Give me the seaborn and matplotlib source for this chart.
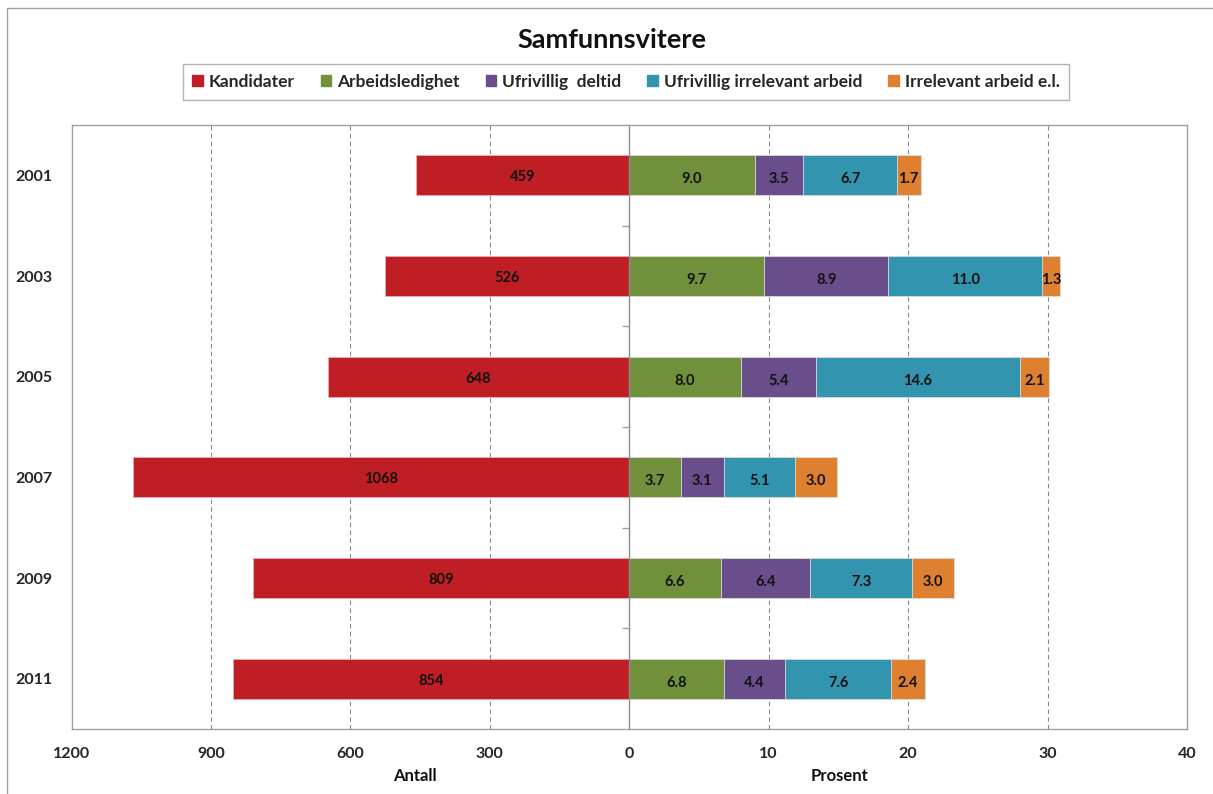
"""Samfunnsvitere: kandidater (antall) og andel med ulike utfall (prosent)."""
import matplotlib
matplotlib.use("Agg")
import matplotlib.pyplot as plt
import matplotlib.patches as mpatches
import numpy as np
import pandas as pd
import seaborn as sns

years = ["2001", "2003", "2005", "2007", "2009", "2011"]
kandidater = [459, 526, 648, 1068, 809, 854]
arbeidsledighet = [9.0, 9.7, 8.0, 3.7, 6.6, 6.8]
ufrivillig_deltid = [3.5, 8.9, 5.4, 3.1, 6.4, 4.4]
ufrivillig_irrelevant = [6.7, 11.0, 14.6, 5.1, 7.3, 7.6]
irrelevant_el = [1.7, 1.3, 2.1, 3.0, 3.0, 2.4]

series_names = ["Kandidater", "Arbeidsledighet", "Ufrivillig  deltid",
                "Ufrivillig irrelevant arbeid", "Irrelevant arbeid e.l."]
colors = ["#BE1E24", "#71903B", "#6A4E8B", "#3294AE", "#DE802F"]

sns.set_theme(style="white")
plt.rcParams["font.family"] = ["Lato", "DejaVu Sans"]
GRAY = "#A0A0A0"

fig = plt.figure(figsize=(12.13, 7.94), dpi=100)
ax_l = fig.add_axes([72 / 1213, 65 / 794, 557 / 1213, 604 / 794])
ax_r = fig.add_axes([629 / 1213, 65 / 794, 558 / 1213, 604 / 794])

# venstre side: antall kandidater
df_k = pd.DataFrame({"year": years, "Antall": kandidater})
sns.barplot(data=df_k, x="Antall", y="year", orient="h", color=colors[0],
            width=0.4, saturation=1, edgecolor="#E8B0B0", linewidth=0.6, ax=ax_l)
ax_l.set_xlim(1200, 0)
ax_l.set_xticks([1200, 900, 600, 300, 0])
for i, v in enumerate(kandidater):
    ax_l.text(v / 2, i + 0.02, str(v), ha="center", va="center", fontsize=10.5,
              fontweight="bold", color="#111111")

# høyre side: stablede prosentandeler
pct = np.array([arbeidsledighet, ufrivillig_deltid, ufrivillig_irrelevant, irrelevant_el])
cum = np.cumsum(pct, axis=0)
for k in range(3, -1, -1):
    df_p = pd.DataFrame({"year": years, "Prosent": cum[k]})
    sns.barplot(data=df_p, x="Prosent", y="year", orient="h", color=colors[k + 1],
                width=0.4, saturation=1, edgecolor="#DDDDDD", linewidth=0.6, ax=ax_r)
for k in range(4):
    for i in range(len(years)):
        mid = cum[k, i] - pct[k, i] / 2
        ax_r.text(mid, i + 0.04, f"{pct[k, i]:.1f}", ha="center", va="center",
                  fontsize=10.5, fontweight="bold", color="#111111")
ax_r.set_xlim(0, 40)
ax_r.set_xticks([0, 10, 20, 30, 40])

for ax in (ax_l, ax_r):
    ax.set_ylim(5.5, -0.5)
    ax.set_xlabel("")
    ax.set_ylabel("")
    for s in ax.spines.values():
        s.set_color(GRAY)
        s.set_linewidth(1.0)
    ax.tick_params(axis="x", direction="out", length=5, color=GRAY, width=1,
                   labelsize=11.5, pad=8)
    for lbl in ax.get_xticklabels():
        lbl.set_fontweight("bold")

for v in (900, 600, 300):
    ax_l.axvline(v, color="#8A8A8A", linestyle=(0, (4, 3)), linewidth=0.8, zorder=0)
for v in (10, 20, 30):
    ax_r.axvline(v, color="#8A8A8A", linestyle=(0, (4, 3)), linewidth=0.8, zorder=0)

ax_l.set_yticks(range(len(years)))
ax_l.set_yticklabels(years, fontsize=11.5, fontweight="bold")
ax_l.tick_params(axis="y", length=0, pad=14, left=False, labelleft=True)
ax_l.spines["right"].set_visible(False)

# nullinjen med små markeringer mellom årene
ax_r.spines["left"].set_color("#8C8C8C")
ax_r.set_yticks([0.5, 1.5, 2.5, 3.5, 4.5])
ax_r.set_yticklabels([])
ax_r.tick_params(axis="y", direction="out", length=5, color=GRAY, width=1, left=True)
ax_r.set_xticklabels(["", "10", "20", "30", "40"])

fig.text(415 / 1213, 1 - 776 / 794, "Antall", ha="center", va="center",
         fontsize=12, fontweight="bold", color="#111111")
fig.text(840 / 1213, 1 - 776 / 794, "Prosent", ha="center", va="center",
         fontsize=12, fontweight="bold", color="#111111")
fig.text(612 / 1213, 1 - 40 / 794, "Samfunnsvitere", ha="center", va="center",
         fontsize=19.5, fontweight="bold", color="#111111")

handles = [mpatches.Patch(color=c, label=n) for c, n in zip(colors, series_names)]
leg = fig.legend(handles=handles, loc="center", bbox_to_anchor=(626 / 1213, 1 - 82 / 794),
                 ncol=5, frameon=True, fancybox=False, handlelength=0.6,
                 handleheight=0.6, handletextpad=0.35, columnspacing=1.5,
                 borderpad=0.55, edgecolor=GRAY, prop={"weight": "bold", "size": 12.5})
leg.get_frame().set_linewidth(1.0)

fig.patches.append(mpatches.Rectangle((7 / 1213, -0.05), 1.2, 1.05 - 8 / 794,
                                      transform=fig.transFigure, fill=False,
                                      edgecolor=GRAY, linewidth=1.0))

fig.savefig("out.png", dpi=100)
